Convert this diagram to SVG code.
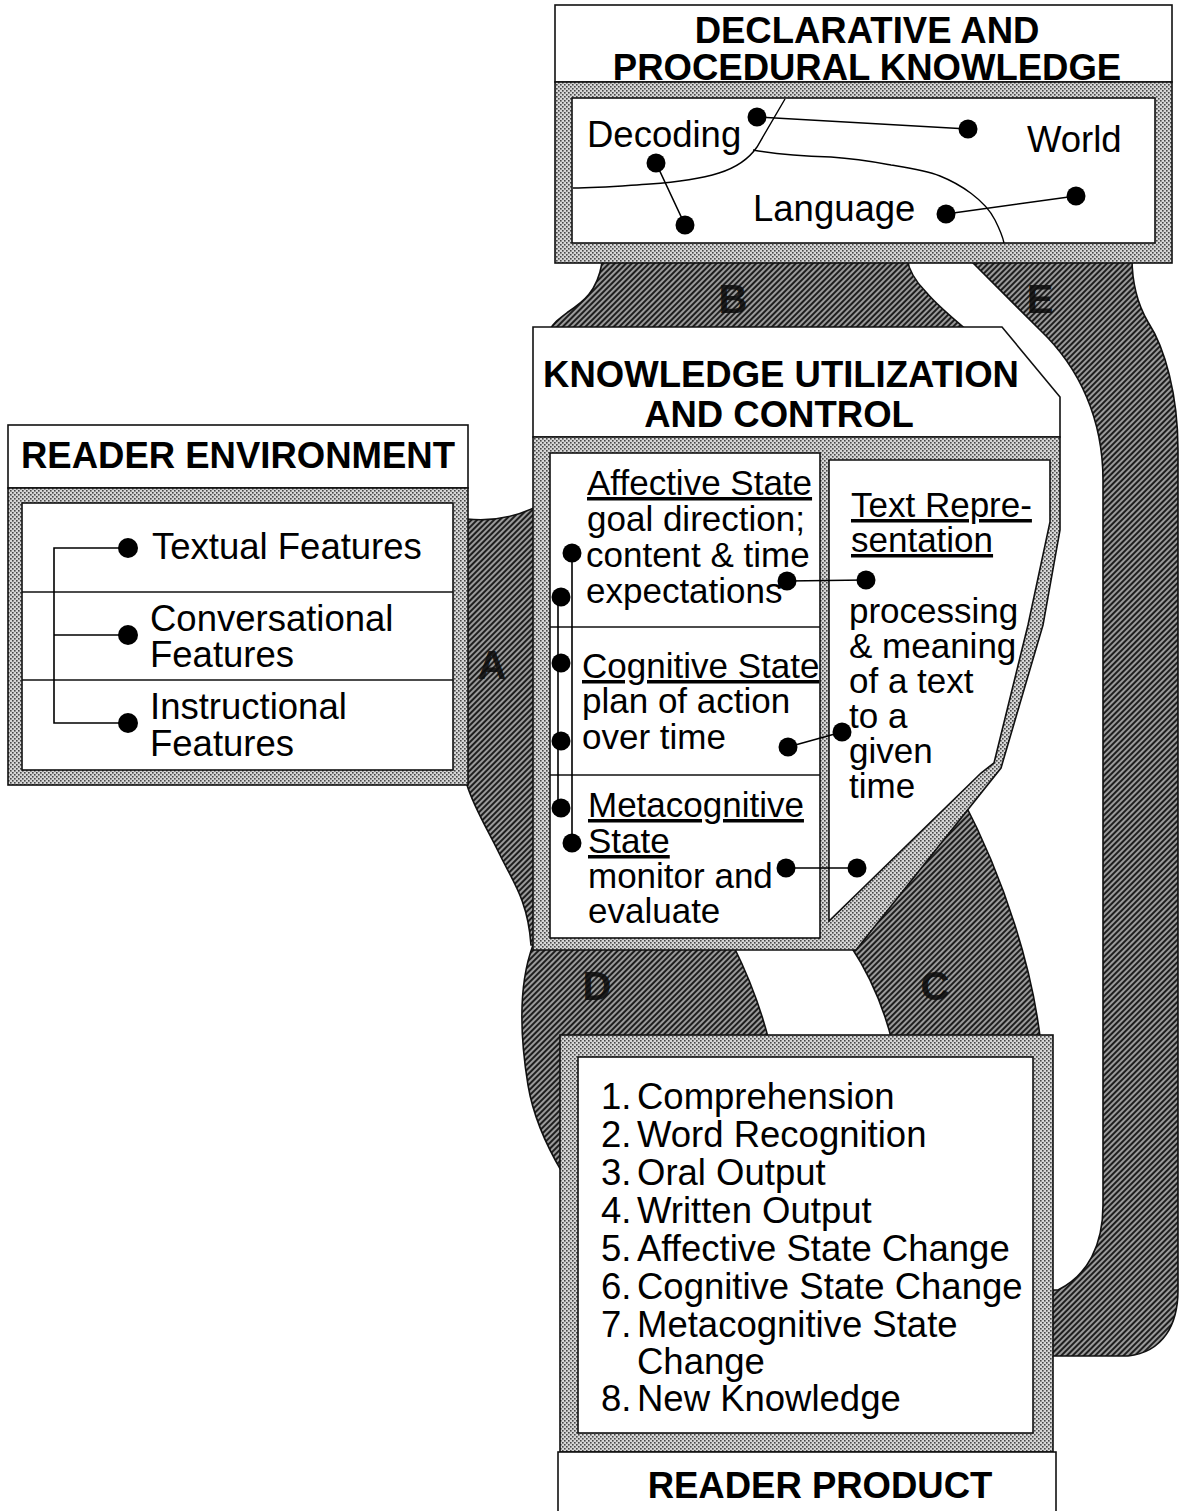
<svg xmlns="http://www.w3.org/2000/svg" width="1180" height="1511" viewBox="0 0 1180 1511">
<defs>
  <!-- light stipple used for the box frames -->
  <pattern id="stipple" width="4" height="4" patternUnits="userSpaceOnUse">
    <rect width="4" height="4" fill="#d6d6d6"/>
    <rect width="1.6" height="1.6" fill="#474747"/>
    <rect x="2" y="2" width="1.6" height="1.6" fill="#474747"/>
  </pattern>
  <!-- dense diagonal hatch used for the flow bands -->
  <pattern id="hatch" width="4" height="4" patternUnits="userSpaceOnUse" patternTransform="rotate(45)">
    <rect width="4" height="4" fill="#9a9a9a"/>
    <rect width="2" height="4" fill="#1e1e1e"/>
  </pattern>
</defs>
<style>
  .band{fill:url(#hatch);stroke:#111;stroke-width:1.6}
  .frame{fill:url(#stipple);stroke:#111;stroke-width:1.6}
  .panel{fill:#fff;stroke:#111;stroke-width:1.6}
  .title{font-family:"Liberation Sans",Arial,sans-serif;font-weight:bold;font-size:36.5px;text-anchor:middle;fill:#000}
  .txt{font-family:"Liberation Sans",Arial,sans-serif;font-size:36.5px;fill:#000}
  .ku{font-size:35px}
  .ul{text-decoration:underline}
  .tag{font-family:"Liberation Sans",Arial,sans-serif;font-weight:bold;font-size:40px;text-anchor:middle;fill:#0c0c0c;fill-opacity:.9}
  .link{fill:none;stroke:#000;stroke-width:1.6}
  .region{fill:none;stroke:#000;stroke-width:1.4}
  .dot{fill:#000}
  .divider{stroke:#111;stroke-width:1.6}
</style>

<rect width="1180" height="1511" fill="#fff"/>

<!-- flow bands between the components -->
<g id="connectors">
  <!-- A: reader environment to knowledge utilization (continues into D) -->
  <path id="band-A" class="band" d="M467,519 Q505,523 540,505 L540,945 L531,945 C528,900 512,880 500,855 C488,830 474,808 467,785 Z"/>
  <!-- D: knowledge utilization to reader product -->
  <path id="band-D" class="band" d="M533,945 L733,945 Q758,995 770,1045 L600,1045 L600,1172 L562,1172 C546,1145 533,1115 528,1085 C519,1030 520,980 533,945 Z"/>
  <!-- C: text representation to reader product -->
  <path id="band-C" class="band" d="M850,945 Q880,990 893,1045 L1041,1045 C1033,970 1005,880 962,798 Z"/>
  <!-- B: declarative and procedural knowledge to knowledge utilization -->
  <path id="band-B" class="band" d="M603,258 L602,263 C597,292 583,302 568,312 C560,318 553,323 549,331 L968,331 C950,316 936,304 926,292 C916,282 909,272 907,258 Z"/>
  <!-- E: declarative and procedural knowledge to reader product -->
  <path id="band-E" class="band" d="M968,258 L973,263 L1040,330 C1080,368 1103,420 1103,480 L1103,1205 C1103,1245 1088,1275 1058,1290 L1045,1290 L1045,1356 L1128,1356 C1163,1352 1178,1325 1178,1290 L1178,450 C1178,395 1165,348 1148,322 C1138,305 1132,285 1132,258 Z"/>
  <text class="tag" x="492" y="679">A</text>
  <text class="tag" x="733" y="313">B</text>
  <text class="tag" x="935" y="1000">C</text>
  <text class="tag" x="597" y="1000">D</text>
  <text class="tag" x="1040" y="313">E</text>
</g>

<!-- declarative and procedural knowledge -->
<g id="declarative-procedural-knowledge">
  <rect class="panel" x="555" y="5" width="617" height="77"/>
  <rect class="frame" x="555" y="82" width="617" height="181"/>
  <rect class="panel" x="572" y="98" width="583" height="145"/>
  <text class="title" x="867" y="43">DECLARATIVE AND</text>
  <text class="title" x="867" y="80">PROCEDURAL KNOWLEDGE</text>
  <path class="region" d="M785,99 L757,147 C748,160 735,168 719,173 C700,179 680,182 650,184 C620,186 600,188 573,188"/>
  <path class="region" d="M753,150 C775,154 800,156 831,157 C860,159 880,163 891,165 C910,168 925,170 940,176 C960,184 985,200 995,220 C1000,230 1003,238 1004,243"/>
  <path class="link" d="M757,117 L968,129 M656,163 L685,225 M946,214 L1076,196"/>
  <circle class="dot" cx="757" cy="117" r="9.5"/>
  <circle class="dot" cx="968" cy="129" r="9.5"/>
  <circle class="dot" cx="656" cy="163" r="9.5"/>
  <circle class="dot" cx="685" cy="225" r="9.5"/>
  <circle class="dot" cx="946" cy="214" r="9.5"/>
  <circle class="dot" cx="1076" cy="196" r="9.5"/>
  <text class="txt" x="587" y="147">Decoding</text>
  <text class="txt" x="1027" y="152">World</text>
  <text class="txt" x="753" y="221">Language</text>
</g>

<!-- knowledge utilization and control -->
<g id="knowledge-utilization-control">
  <path class="panel" d="M533,327 L1002,327 L1060,397 L1060,437 L533,437 Z"/>
  <path class="frame" d="M533,437 L1060,437 L1060,530 L1043,625 L1001,768 L856,950 L533,950 Z"/>
  <rect class="panel" x="550" y="453" width="270" height="485"/>
  <path class="panel" d="M829,460 L1050,460 L1050,522 L1028,625 L994,763 L981,773 L829,921 Z"/>
  <line class="divider" x1="550" y1="627" x2="820" y2="627"/>
  <line class="divider" x1="550" y1="775" x2="820" y2="775"/>
  <text class="title" x="781" y="387">KNOWLEDGE UTILIZATION</text>
  <text class="title" x="779" y="427">AND CONTROL</text>

  <text class="txt ku ul" x="587" y="495">Affective State</text>
  <text class="txt ku" x="587" y="531">goal direction;</text>
  <text class="txt ku" x="586" y="567">content &amp; time</text>
  <text class="txt ku" x="586" y="603">expectations</text>
  <text class="txt ku ul" x="582" y="678">Cognitive State</text>
  <text class="txt ku" x="582" y="713">plan of action</text>
  <text class="txt ku" x="582" y="749">over time</text>
  <text class="txt ku ul" x="588" y="817">Metacognitive</text>
  <text class="txt ku ul" x="588" y="853">State</text>
  <text class="txt ku" x="588" y="888">monitor and</text>
  <text class="txt ku" x="588" y="923">evaluate</text>

  <text class="txt ku ul" x="851" y="517">Text Repre-</text>
  <text class="txt ku ul" x="851" y="552">sentation</text>
  <text class="txt ku" x="849" y="623">processing</text>
  <text class="txt ku" x="849" y="658">&amp; meaning</text>
  <text class="txt ku" x="849" y="693">of a text</text>
  <text class="txt ku" x="849" y="728">to a</text>
  <text class="txt ku" x="849" y="763">given</text>
  <text class="txt ku" x="849" y="798">time</text>

  <path class="link" d="M572,553 V843 M558,597 V808"/>
  <path class="link" d="M787,581 L866,580 M788,747 L842,732 M786,868 L857,868"/>
  <circle class="dot" cx="572" cy="553" r="9.5"/>
  <circle class="dot" cx="561" cy="597" r="9.5"/>
  <circle class="dot" cx="561" cy="663" r="9.5"/>
  <circle class="dot" cx="561" cy="741" r="9.5"/>
  <circle class="dot" cx="561" cy="808" r="9.5"/>
  <circle class="dot" cx="572" cy="843" r="9.5"/>
  <circle class="dot" cx="787" cy="581" r="9.5"/>
  <circle class="dot" cx="866" cy="580" r="9.5"/>
  <circle class="dot" cx="788" cy="747" r="9.5"/>
  <circle class="dot" cx="842" cy="732" r="9.5"/>
  <circle class="dot" cx="786" cy="868" r="9.5"/>
  <circle class="dot" cx="857" cy="868" r="9.5"/>
</g>

<!-- reader environment -->
<g id="reader-environment">
  <rect class="panel" x="8" y="425" width="460" height="63"/>
  <rect class="frame" x="8" y="488" width="460" height="297"/>
  <rect class="panel" x="22" y="503" width="431" height="267"/>
  <line class="divider" x1="22" y1="592" x2="453" y2="592"/>
  <line class="divider" x1="22" y1="680" x2="453" y2="680"/>
  <text class="title" x="238" y="468">READER ENVIRONMENT</text>
  <path class="link" d="M128,548 H54 V723 H128 M54,635 H128"/>
  <circle class="dot" cx="128" cy="548" r="10"/>
  <circle class="dot" cx="128" cy="635" r="10"/>
  <circle class="dot" cx="128" cy="723" r="10"/>
  <text class="txt" x="152" y="559">Textual Features</text>
  <text class="txt" x="150" y="631">Conversational</text>
  <text class="txt" x="150" y="667">Features</text>
  <text class="txt" x="150" y="719">Instructional</text>
  <text class="txt" x="150" y="756">Features</text>
</g>

<!-- reader product -->
<g id="reader-product">
  <rect class="frame" x="560" y="1035" width="493" height="417"/>
  <rect class="panel" x="578" y="1057" width="455" height="376"/>
  <rect class="panel" x="558" y="1452" width="498" height="70"/>
  <text class="title" x="820" y="1498">READER PRODUCT</text>
  <g class="txt">
    <text x="601" y="1109">1.</text><text x="637" y="1109">Comprehension</text>
    <text x="601" y="1147">2.</text><text x="637" y="1147">Word Recognition</text>
    <text x="601" y="1185">3.</text><text x="637" y="1185">Oral Output</text>
    <text x="601" y="1223">4.</text><text x="637" y="1223">Written Output</text>
    <text x="601" y="1261">5.</text><text x="637" y="1261">Affective State Change</text>
    <text x="601" y="1299">6.</text><text x="637" y="1299">Cognitive State Change</text>
    <text x="601" y="1337">7.</text><text x="637" y="1337">Metacognitive State</text>
    <text x="637" y="1374">Change</text>
    <text x="601" y="1411">8.</text><text x="637" y="1411">New Knowledge</text>
  </g>
</g>
</svg>
